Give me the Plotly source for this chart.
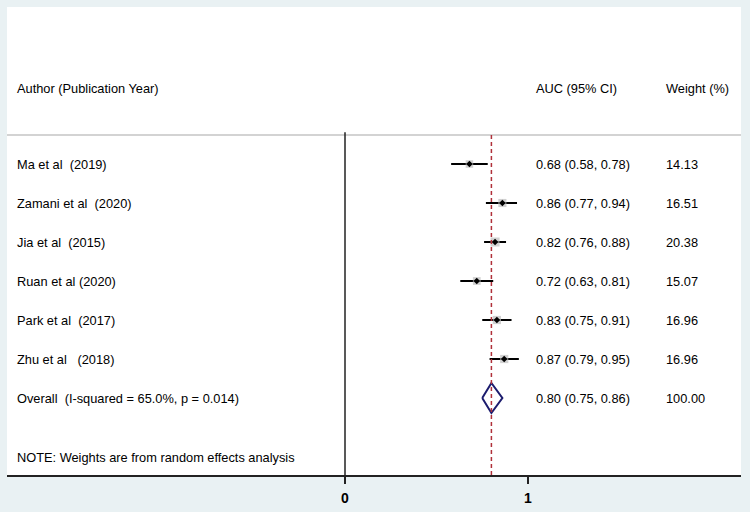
import plotly.graph_objects as go

# ---- data ----
authors = ["Ma et al  (2019)", "Zamani et al  (2020)", "Jia et al  (2015)",
           "Ruan et al (2020)", "Park et al  (2017)", "Zhu et al   (2018)"]
auc = [0.68, 0.86, 0.82, 0.72, 0.83, 0.87]
ci_low = [0.58, 0.77, 0.76, 0.63, 0.75, 0.79]
ci_high = [0.78, 0.94, 0.88, 0.81, 0.91, 0.95]
weights = [14.13, 16.51, 20.38, 15.07, 16.96, 16.96]

overall_label = "Overall  (I-squared = 65.0%, p = 0.014)"
overall_auc = 0.80
overall_low = 0.75
overall_high = 0.86
overall_weight = 100.00

header_author = "Author (Publication Year)"
header_auc = "AUC (95% CI)"
header_weight = "Weight (%)"
note_text = "NOTE: Weights are from random effects analysis"
x_tick_vals = [0, 1]
x_tick_text = ["0", "1"]

# ---- layout geometry ----
W, H = 750, 512
L, R, T, B = 7, 741, 7, 475          # plot area in pixels
X0_PX, X1_PX = 345, 528              # pixel of x=0 and x=1
ROW0_PX, ROW_STEP = 164, 39          # pixel of first row, row spacing


def px_to_x(p):
    return (p - X0_PX) / (X1_PX - X0_PX)


def py_to_row(p):
    return (p - ROW0_PX) / ROW_STEP


def keep_spaces(s):
    return s.replace("  ", " \u00a0")


x_range = [px_to_x(L), px_to_x(R)]
y_range = [py_to_row(B), py_to_row(T)]

FONT = "Liberation Sans, Arial, sans-serif"
FS = 12.8
rows = list(range(len(authors)))
overall_row = len(authors)
header_row = py_to_row(88)
sep_row = py_to_row(135)
note_row = py_to_row(457)

fig = go.Figure()

# weight boxes (grey squares) with CI whiskers
fig.add_trace(go.Scatter(
    x=auc, y=rows, mode="markers",
    marker=dict(symbol="square", color="#bdbdbd",
                size=[w ** 0.5 * 2.0 for w in weights], line=dict(width=0)),
    error_x=dict(type="data", symmetric=False,
                 array=[h - a for a, h in zip(auc, ci_high)],
                 arrayminus=[a - l for a, l in zip(auc, ci_low)],
                 color="black", thickness=2, width=0),
    hoverinfo="skip", showlegend=False))

# point estimates (black diamonds)
fig.add_trace(go.Scatter(
    x=auc, y=rows, mode="markers",
    marker=dict(symbol="diamond", color="black", size=5),
    hoverinfo="skip", showlegend=False))

# overall diamond
dh = 15 / ROW_STEP
fig.add_trace(go.Scatter(
    x=[overall_low, overall_auc, overall_high, overall_auc, overall_low],
    y=[overall_row, overall_row - dh, overall_row, overall_row + dh, overall_row],
    mode="lines", line=dict(color="#1c1c6e", width=2),
    hoverinfo="skip", showlegend=False))

shapes = [
    # header separator
    dict(type="line", xref="paper", yref="y", x0=0, x1=1, y0=sep_row, y1=sep_row,
         line=dict(color="#c4c4c4", width=1.5)),
    # null line at 0
    dict(type="line", xref="x", yref="y", x0=0, x1=0, y0=sep_row - 0.07, y1=y_range[0],
         line=dict(color="#222222", width=1.5)),
    # overall estimate line
    dict(type="line", xref="x", yref="y", x0=overall_auc, x1=overall_auc,
         y0=sep_row, y1=y_range[0],
         line=dict(color="#b0303a", width=1.5, dash="4px,3px")),
]

ann = []


def add_text(xpx, row, text):
    ann.append(dict(x=px_to_x(xpx), y=row, xref="x", yref="y", text=keep_spaces(text),
                    showarrow=False, xanchor="left", yanchor="middle",
                    font=dict(family=FONT, size=FS, color="black")))


add_text(15, header_row, header_author)
add_text(534, header_row, header_auc)
add_text(664, header_row, header_weight)

for r, name, a, l, h, w in zip(rows, authors, auc, ci_low, ci_high, weights):
    add_text(15, r, name)
    add_text(534, r, f"{a:.2f} ({l:.2f}, {h:.2f})")
    add_text(664, r, f"{w:.2f}")

add_text(15, overall_row, overall_label)
add_text(534, overall_row, f"{overall_auc:.2f} ({overall_low:.2f}, {overall_high:.2f})")
add_text(664, overall_row, f"{overall_weight:.2f}")
add_text(15, note_row, note_text)

fig.update_layout(
    width=W, height=H,
    margin=dict(l=L, r=W - R, t=T, b=H - B, pad=0),
    paper_bgcolor="#e9f1f3", plot_bgcolor="white",
    shapes=shapes, annotations=ann,
    xaxis=dict(range=x_range, tickvals=x_tick_vals, ticktext=x_tick_text,
               showgrid=False, zeroline=False, showline=True, linecolor="#222222",
               linewidth=1.5, ticks="outside", ticklen=7, tickcolor="#222222",
               tickwidth=1.5, ticklabelstandoff=2,
               tickfont=dict(family=FONT, size=14, color="black", weight="bold")),
    yaxis=dict(range=y_range, showgrid=False, zeroline=False, showticklabels=False,
               showline=False, ticks=""),
    font=dict(family=FONT),
)

fig.write_html("out.html", config={"displayModeBar": False},
               post_script="document.body.style.margin='0';document.body.style.overflow='hidden';")
